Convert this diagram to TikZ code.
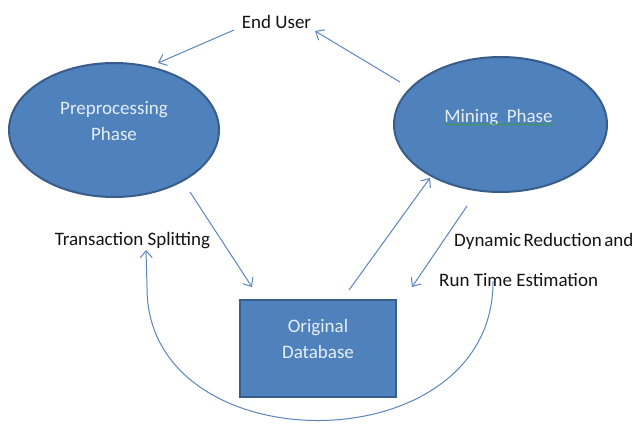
\documentclass[tikz,border=0pt]{standalone}
\usepackage{fontspec}
\setmainfont{Carlito}
\usetikzlibrary{arrows.meta,shapes.geometric,decorations.pathmorphing}
\definecolor{fillblue}{HTML}{4F81BD}
\definecolor{edgeblue}{HTML}{385D8A}
\definecolor{linkblue}{HTML}{5A86BE}
\definecolor{shapetext}{HTML}{E6EEF8}
\definecolor{labeltext}{HTML}{141414}
\definecolor{spellgreen}{HTML}{3F9A48}
\begin{document}
\begin{tikzpicture}[x=1pt,y=-1pt,
  phase/.style={ellipse, draw=edgeblue, fill=fillblue, line width=2pt, inner sep=0pt},
  dbbox/.style={rectangle, draw=edgeblue, fill=fillblue, line width=2.5pt, inner sep=0pt,
    minimum width=156pt, minimum height=97pt},
  intext/.style={text=shapetext, font=\fontsize{19}{26}\selectfont, inner sep=0pt},
  lbl/.style={text=labeltext, font=\fontsize{19}{26}\selectfont, inner sep=0pt},
  conn/.style={draw=linkblue, line width=1pt, -{Straight Barb[length=7pt,width=12pt]}},
  squiggle/.style={draw=spellgreen, line width=0.6pt, decorate,
    decoration={snake, amplitude=0.7pt, segment length=2.5pt}}]
\fill[white] (0,0) rectangle (636,431);
\useasboundingbox (0,0) rectangle (636,431);

% shapes
\node[phase, minimum width=210pt, minimum height=134pt] (pre) at (114,130) {};
\node[phase, minimum width=213pt, minimum height=135pt] (mine) at (500.5,124.5) {};
\node[dbbox] (db) at (318,348.5) {};

% texts inside shapes
\node[intext, anchor=base] (preA) at (114,114) {Preprocessing};
\node[intext, anchor=base] (preB) at (114,140) {Phase};
\node[intext, anchor=base] (mineT) at (498.5,122) {Mining~~Phase};
\node[intext, anchor=base] (dbA) at (318,332) {Original};
\node[intext, anchor=base] (dbB) at (318,358) {Database};
\draw[squiggle] ([yshift=-2.5pt]mineT.base west) -- ([yshift=-2.5pt]mineT.base east);

% labels
\node[lbl, anchor=base] (user) at (276.5,28) {End User};
\node[lbl, anchor=base] (split) at (132.5,245) {Transaction Splitting};
\node[lbl, anchor=base west] (dyn) at (454,246) {Dynamic\hspace{2.6pt}Reduction\hspace{2.6pt}and};
\node[lbl, anchor=base west] (run) at (439,286) {Run Time Estimation};

% connector end points
\coordinate (u1) at (234,30);
\coordinate (p1) at (158,63);
\coordinate (m1) at (400,82);
\coordinate (u2) at (315,31);
\coordinate (p2) at (190,192);
\coordinate (d1) at (252,287);
\coordinate (d2) at (349,290);
\coordinate (m2) at (430,178);
\coordinate (m3) at (467,206);
\coordinate (d3) at (412,287);
\coordinate (r1) at (493,281);
\coordinate (r2) at (147,287);
\coordinate (s1) at (146,250);

% connectors
\draw[conn] (u1) -- (p1);
\draw[conn] (m1) -- (u2);
\draw[conn] (p2) -- (d1);
\draw[conn] (d2) -- (m2);
\draw[conn] (m3) -- (d3);
\draw[conn] (r1) .. controls (494,466) and (146,466) .. (r2) -- (s1);
\end{tikzpicture}
\end{document}
